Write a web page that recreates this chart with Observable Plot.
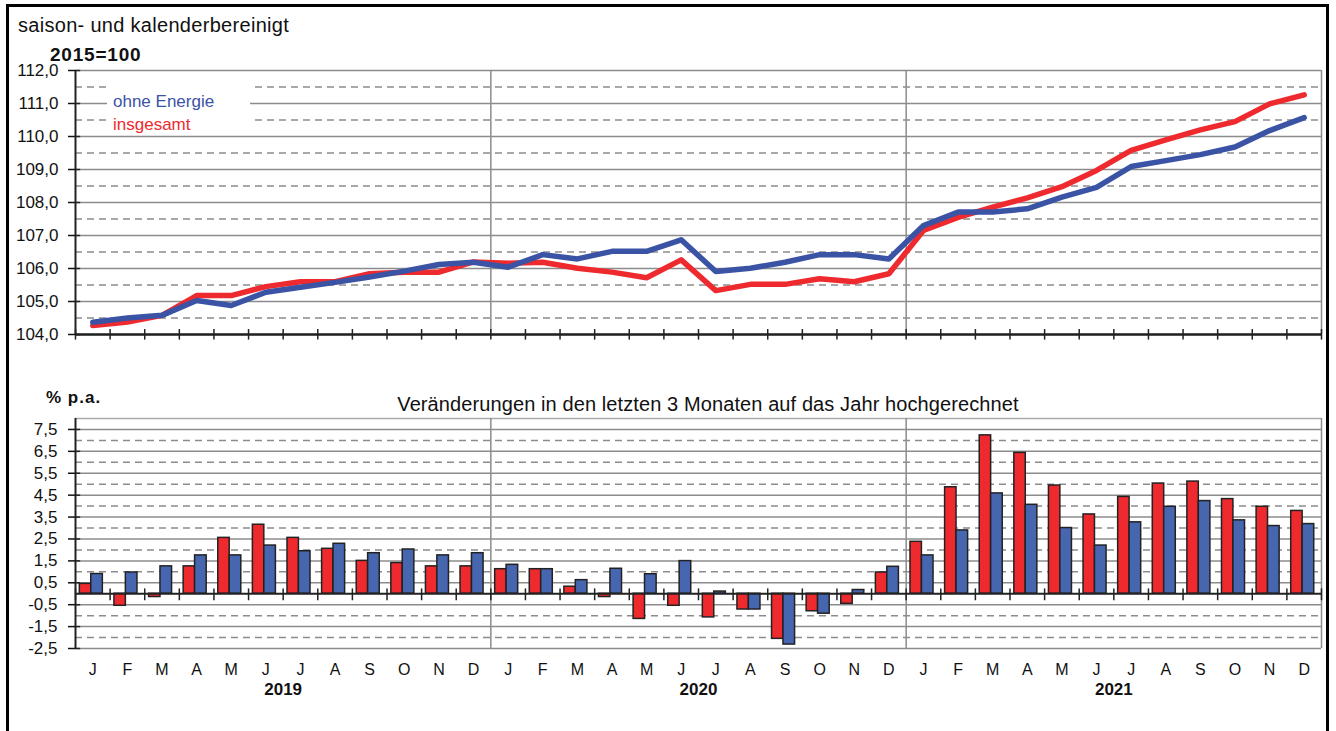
<!DOCTYPE html>
<html><head><meta charset="utf-8">
<script src="https://cdn.jsdelivr.net/npm/d3@7"></script>
<script src="https://cdn.jsdelivr.net/npm/@observablehq/plot@0.6"></script>
<style>
body{margin:0;background:#fff;font-family:"Liberation Sans",Arial,sans-serif;color:#111;}
#page{position:relative;width:1336px;height:731px;overflow:hidden;background:#fff;}
.abs{position:absolute;white-space:nowrap;line-height:1;}
#frame{position:absolute;left:6px;top:4px;width:1323px;height:760px;border:3px solid #000;box-sizing:border-box;}
#topchart,#botchart{position:absolute;left:0;}
#topchart{top:40px;}
#botchart{top:410px;}
#legend{position:absolute;left:107px;top:82px;width:143px;height:52px;background:#fff;z-index:2;}
</style></head><body><div id="page">
<div id="frame"></div>
<div id="topchart"></div>
<div id="botchart"></div>
<div class="abs" style="left:18px;top:15px;font-size:20px;letter-spacing:0.3px;">saison- und kalenderbereinigt</div>
<div class="abs" style="left:50px;top:45px;font-size:19px;font-weight:600;letter-spacing:0.8px;">2015=100</div>
<div id="legend">
  <div class="abs" style="left:6px;top:11px;font-size:17px;color:#3b53a4;">ohne Energie</div>
  <div class="abs" style="left:6px;top:34px;font-size:17px;color:#ee2a2e;">insgesamt</div>
</div>
<div class="abs" style="left:46px;top:389px;font-size:17px;font-weight:600;letter-spacing:1px;">% p.a.</div>
<div class="abs" style="left:0;width:1416px;text-align:center;top:394px;font-size:20px;letter-spacing:0.1px;">Veränderungen in den letzten 3 Monaten auf das Jahr hochgerechnet</div>
</div>
<script>
// ---- data ----
const monthLetters = ["J","F","M","A","M","J","J","A","S","O","N","D"];
const years = ["2019","2020","2021"];

// index level, 2015=100 (Jan 2019 .. Dec 2021)
const ohneEnergie = [
  104.37,104.50,104.58,105.03,104.88,105.28,105.43,105.58,105.74,105.92,106.12,106.19,
  106.04,106.42,106.29,106.52,106.52,106.87,105.91,106.01,106.19,106.42,106.42,106.29,
  107.30,107.71,107.71,107.81,108.16,108.46,109.09,109.27,109.45,109.68,110.18,110.57
];
const insgesamt = [
  104.27,104.38,104.58,105.18,105.18,105.45,105.60,105.60,105.84,105.89,105.89,106.20,
  106.16,106.19,106.01,105.89,105.72,106.26,105.33,105.52,105.52,105.69,105.60,105.84,
  107.15,107.55,107.86,108.14,108.48,108.97,109.58,109.90,110.20,110.45,110.99,111.26
];
// 3-month annualised change, % p.a.
const changeInsgesamt = [
  0.45,-0.55,-0.15,1.25,2.55,3.15,2.55,2.05,1.50,1.40,1.25,1.25,
  1.12,1.12,0.32,-0.15,-1.15,-0.55,-1.08,-0.72,-2.06,-0.80,-0.46,0.97,
  2.37,4.86,7.23,6.43,4.94,3.62,4.42,5.03,5.12,4.32,3.97,3.78
];
const changeOhneEnergie = [
  0.90,0.97,1.25,1.75,1.75,2.20,1.94,2.28,1.85,2.02,1.75,1.85,
  1.32,1.12,0.62,1.14,0.89,1.49,0.10,-0.72,-2.32,-0.91,0.17,1.23,
  1.75,2.89,4.58,4.06,3.00,2.20,3.26,3.97,4.23,3.35,3.09,3.18
];
const topTicks = [104,105,106,107,108,109,110,111,112];
const topHalf = [104.5,105.5,106.5,107.5,108.5,109.5,110.5,111.5];
const botTicks = [7.5,6.5,5.5,4.5,3.5,2.5,1.5,0.5,-0.5,-1.5,-2.5];
const botHalf = [7,6,5,4,3,2,1,-1,-2];

// ---- derived tables ----
const idx = d3.range(36);
const lineData = idx.map(i => ({i, ohne: ohneEnergie[i], ges: insgesamt[i]}));
const barData = idx.map(i => ({i, red: changeInsgesamt[i], blue: changeOhneEnergie[i]}));
const bounds = d3.range(37);
const monthLabels = idx.map(i => ({i, t: monthLetters[i % 12]}));
const yearLabels = years.map((y, k) => ({k, y}));

const RED = "#ee2a2e", BLUE = "#3b53a4", BARBLUE = "#4766b0", GRID = "#8c8c8c";
const fmt = d => d.toFixed(1).replace(".", ",");
const plotStyle = {fontFamily: "'Liberation Sans', Arial, sans-serif", fontSize: "17px", background: "transparent", color: "#111", overflow: "visible"};

const topPlot = Plot.plot({
  width: 1336, height: 320,
  marginLeft: 75, marginRight: 15, marginTop: 30, marginBottom: 26,
  style: plotStyle,
  x: {domain: [0, 36], axis: null},
  y: {domain: [104, 112], axis: null},
  marks: [
    Plot.ruleY(topHalf, {stroke: GRID, strokeWidth: 1.5, strokeDasharray: "7,5"}),
    Plot.ruleY(topTicks, {stroke: GRID, strokeWidth: 1.5}),
    Plot.ruleX([12, 24, 36], {stroke: GRID, strokeWidth: 1.5}),
    Plot.line(lineData, {x: d => d.i + 0.5, y: "ges", stroke: RED, strokeWidth: 5.5}),
    Plot.line(lineData, {x: d => d.i + 0.5, y: "ohne", stroke: BLUE, strokeWidth: 5.5}),
    Plot.ruleX([0], {stroke: "#222", strokeWidth: 2}),
    Plot.ruleY([104], {stroke: "#222", strokeWidth: 2.5}),
    Plot.ruleX(bounds, {x: d => d, y1: () => 103.83, y2: () => 104.15, stroke: "#222", strokeWidth: 1.5}),
    Plot.ruleY(topTicks, {x1: () => 0, x2: () => 0.15, stroke: "#222", strokeWidth: 1.5}),
    Plot.axisY({ticks: topTicks, tickFormat: fmt, tickSize: 7, tickPadding: 10, fontSize: 17, strokeWidth: 1.5})
  ]
});
document.getElementById("topchart").append(topPlot);

const botPlot = Plot.plot({
  width: 1336, height: 298,
  marginLeft: 75, marginRight: 15, marginTop: 8, marginBottom: 60,
  style: plotStyle,
  x: {domain: [0, 36], axis: null},
  y: {domain: [-2.5, 8], axis: null},
  marks: [
    Plot.ruleY(botHalf, {stroke: GRID, strokeWidth: 1.5, strokeDasharray: "7,5"}),
    Plot.ruleY(botTicks, {stroke: GRID, strokeWidth: 1.5}),
    Plot.ruleY([8], {stroke: "#aaa", strokeWidth: 1.5}),
    Plot.ruleX([12, 24, 36], {stroke: GRID, strokeWidth: 1.5}),
    Plot.rect(barData, {x1: d => d.i + 0.125, x2: d => d.i + 0.455, y1: () => 0, y2: "red", fill: RED, stroke: "#222", strokeWidth: 1.5}),
    Plot.rect(barData, {x1: d => d.i + 0.455, x2: d => d.i + 0.79, y1: () => 0, y2: "blue", fill: BARBLUE, stroke: "#222", strokeWidth: 1.5}),
    Plot.ruleX([0], {stroke: "#222", strokeWidth: 2}),
    Plot.ruleY([0], {stroke: "#222", strokeWidth: 2}),
    Plot.ruleX(bounds, {x: d => d, y1: () => -0.32, y2: () => 0.22, stroke: "#222", strokeWidth: 1.5}),
    Plot.ruleY(botTicks, {x1: () => 0, x2: () => 0.15, stroke: "#222", strokeWidth: 1.5}),
    Plot.axisY({ticks: botTicks, tickFormat: fmt, tickSize: 7, tickPadding: 11, fontSize: 17, strokeWidth: 1.5}),
    Plot.text(monthLabels, {x: d => d.i + 0.5, text: "t", frameAnchor: "bottom", dy: 26, fontSize: 16, fill: "#111"}),
    Plot.text(yearLabels, {x: d => d.k * 12 + 6, text: "y", frameAnchor: "bottom", dy: 46, fontSize: 17, fontWeight: "bold", fill: "#111"})
  ]
});
document.getElementById("botchart").append(botPlot);
</script>
</body></html>
